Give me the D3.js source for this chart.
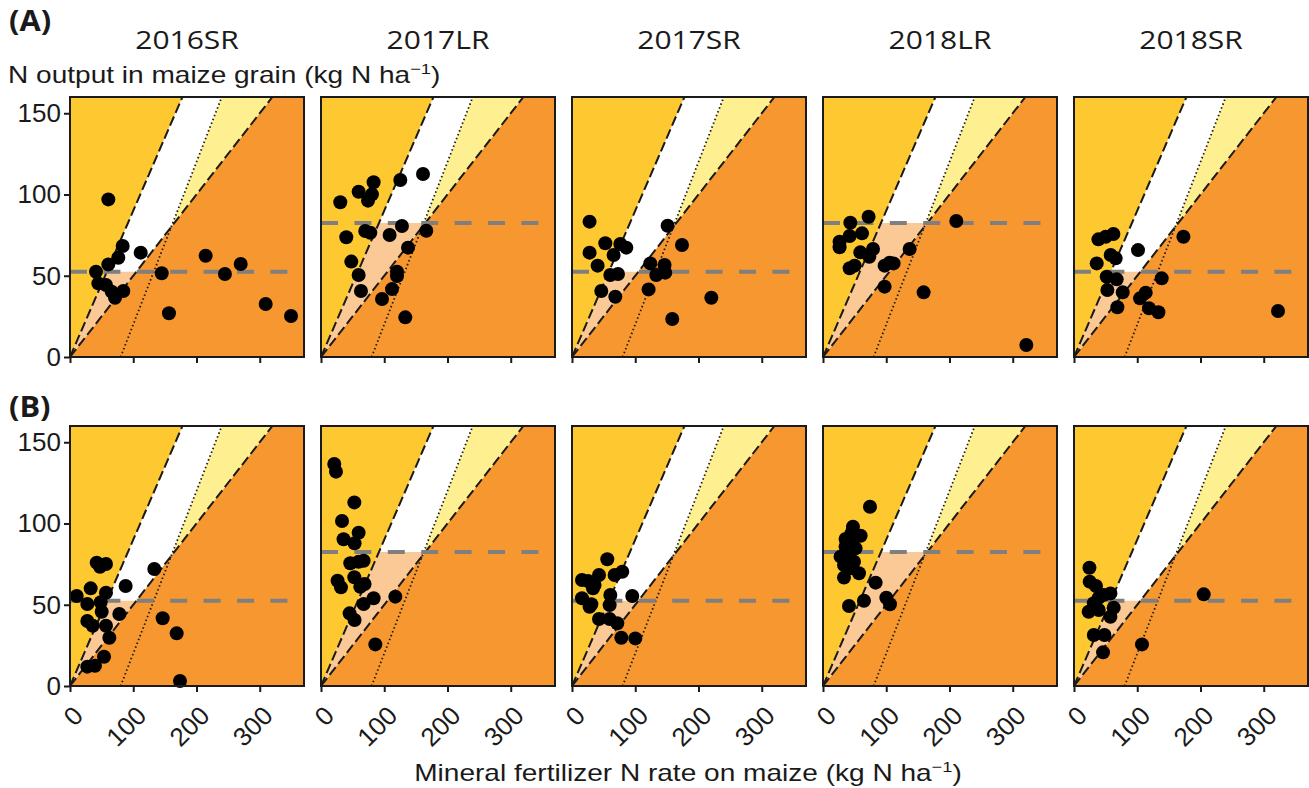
<!DOCTYPE html>
<html>
<head>
<meta charset="utf-8">
<script src="https://cdn.jsdelivr.net/npm/d3@7"></script>
<style>
  body { margin: 0; background: #fff; }
  .axis text { font-family: "Liberation Sans", Arial, sans-serif; font-size: 26px; fill: #1a1a1a; }
  .axis path { display: none; }
  .axis line { stroke: #1a1a1a; stroke-width: 2px; }
</style>
</head>
<body>
<div id="chart"></div>
<script>

// seasons (columns) and rows
var seasons = ["2016SR", "2017LR", "2017SR", "2018LR", "2018SR"];
var rowLabels = ["(A)", "(B)"];

// yield threshold per season (kg N ha-1 in grain)
var yieldThreshold = [52.5, 82.5, 52.5, 82.5, 52.5];

// NUE bounds and N surplus limit
var nueHigh = 0.9;
var nueLow = 0.5;
var surplusMax = 80;
var thresholdEnd = 345;

var xDomain = [0, 370];
var yDomain = [0, 160];
var xTicks = [0, 100, 200, 300];
var yTicks = [0, 50, 100, 150];

// row (A) points: [fertilizer N rate, grain N output]
var pointsA_2016SR = [[60.6,97],[41.1,52.5],[44.8,45.3],[56.9,44.3],[60.6,57],[76.4,61.1],[83.3,68.3],[111.8,64.2],[65.9,40.2],[71.2,36.5],[84.3,40.6],[145,51.5],[156.5,26.9],[214.5,62.3],[245,51.1],[269.9,57.2],[309.4,32.6],[349.5,25.2]];
var pointsA_2017LR = [[30.5,95.2],[59.5,101.7],[83.2,107.5],[80.6,100.1],[74.3,96.2],[125.4,108.9],[161.3,112.6],[40,73.7],[70,77.5],[78,76.5],[108.5,75.1],[128,80.6],[166.5,77.7],[137.6,67.3],[47.9,58.7],[59.5,50.5],[63.2,40.6],[96.5,35.7],[112.3,41.8],[120.2,52.5],[120.2,49.8],[133.3,24.4]];
var pointsA_2017SR = [[27.8,83.3],[52.7,70],[27.8,64.2],[40.5,56.2],[65.8,62.8],[76.4,69.5],[85.9,67.3],[60.6,50.5],[72.7,51.1],[46.3,40.6],[68.5,37.1],[151.2,80.8],[173.9,68.9],[123.8,57.6],[146.4,56.6],[133.3,50.5],[147.5,51.9],[121.1,41.6],[220.3,36.5],[158.5,23.4]];
var pointsA_2018LR = [[72.1,86.3],[43.2,82.6],[42.1,74.5],[61.7,76.1],[26.2,71],[26.2,67.5],[59,64.4],[79.1,66.5],[73.2,61.7],[42.1,54.6],[50,56.2],[97.4,56.2],[111.6,57.6],[105.3,58],[137,66.5],[97.4,43.3],[159.1,39.8],[210.8,83.7],[321.5,7.4]];
var pointsA_2018SR = [[38.6,72.4],[50.1,74],[62.3,75.7],[101.2,65.8],[173,74],[35.9,57.6],[58,62.8],[65.9,60.7],[51.7,49.4],[67.5,47.8],[52.8,41.2],[77,39.8],[68.6,30.6],[138.7,48.4],[113.4,39.6],[104.4,36.1],[118.6,30],[133.5,27.5],[322.6,28.3]];

// row (B) points
var pointsB_2016SR = [[10.6,55.4],[32.7,60.1],[42.2,75.9],[47.4,73.4],[56.9,75.1],[27.4,50.5],[48.5,51.5],[56.9,57.4],[50.1,45.7],[27.4,40],[35.9,37.1],[56.9,37.1],[62.2,29.7],[53.8,18],[27.4,11.9],[39.5,12.5],[88,61.5],[78,44.3],[133.3,72],[146.5,41.7],[168.7,32.4],[173.9,3.1]];
var pointsB_2017LR = [[21,136.6],[23.7,131.9],[52.7,113],[33.2,101.5],[59.5,94.3],[35.7,90.3],[53.1,87.8],[46.3,75.5],[67.4,77.1],[59.5,76.5],[52.7,66.9],[26.2,64.8],[31.6,60.7],[62.1,61.1],[68.9,62.8],[83.2,54],[67.4,50.5],[117.5,55],[45.2,44.7],[53.1,40.6],[85.9,25.6]];
var pointsB_2017SR = [[55.8,78],[79.5,70.3],[67.4,68.3],[42.7,68.3],[15.8,65.2],[25.3,64.6],[35.7,62.2],[60.6,56],[95.3,55.4],[15.8,54],[30.6,50.3],[27.8,48.8],[59.5,49.8],[42.7,41.2],[59.5,41.2],[71.6,38.6],[78,29.7],[100.1,29.3],[33.2,60.1]];
var pointsB_2018LR = [[74.3,110.3],[47.4,98],[59.5,92.5],[35.7,90.5],[45.2,94],[35.7,85.7],[51.5,84.7],[27.8,79.6],[40.5,80.6],[33.2,74.5],[49,76.5],[56.9,69.4],[33.2,66.7],[42.7,72.4],[83.2,63.6],[64.8,52.5],[41.1,49.2],[100.1,54.3],[105.9,50.3],[46.3,88.8]];
var pointsB_2018SR = [[24.4,72.8],[24.8,64.2],[34.8,61.5],[57.6,57],[39.1,54.3],[31.3,50.9],[62.8,48.2],[23.2,45.7],[39.1,46.8],[57.6,42.6],[31.3,31.4],[48.1,31.4],[45.9,20.7],[107.5,25.6],[205.1,56.4],[47,56]];

var panelPoints = [
    [pointsA_2016SR, pointsA_2017LR, pointsA_2017SR, pointsA_2018LR, pointsA_2018SR],
    [pointsB_2016SR, pointsB_2017LR, pointsB_2017SR, pointsB_2018LR, pointsB_2018SR]
];

var colors = {
    high: "#fec830",     // NUE > 90%
    low: "#f7972f",      // NUE < 50%
    target: "#ffffff",
    surplus: "#fef090",
    lowYield: "#fbc996"
};

// layout
var panelW = 234, panelH = 260, panelStep = 251, left0 = 70;
var rowTop = [97, 426];

var svg = d3.select("#chart").append("svg")
    .attr("width", 1309)
    .attr("height", 788);

var x = d3.scaleLinear().domain(xDomain).range([0, panelW]);
var y = d3.scaleLinear().domain(yDomain).range([panelH, 0]);

var line = d3.line()
    .x(function(d) { return x(d[0]); })
    .y(function(d) { return y(d[1]); });

var yTop = yDomain[1], xRight = xDomain[1];

rowLabels.forEach(function(rowLabel, r) {
    seasons.forEach(function(season, c) {
        var t = yieldThreshold[c];
        var g = svg.append("g")
            .attr("transform", "translate(" + (left0 + c * panelStep) + "," + rowTop[r] + ")");

        // background regions
        g.append("rect")
            .attr("width", panelW).attr("height", panelH)
            .attr("fill", colors.high);

        var xc = surplusMax / (1 - nueLow);
        var regions = [
            { fill: colors.low, pts: [[0,0],[xRight,0],[xRight,yTop],[yTop/nueLow,yTop]] },
            { fill: colors.target, pts: [[0,0],[yTop/nueLow,yTop],[yTop/nueHigh,yTop]] },
            { fill: colors.surplus, pts: [[xc,xc*nueLow],[yTop/nueLow,yTop],[yTop+surplusMax,yTop]] },
            { fill: colors.lowYield, pts: [[0,0],[t/nueLow,t],[t/nueHigh,t]] }
        ];
        regions.forEach(function(reg) {
            g.append("path")
                .attr("d", line(reg.pts) + "Z")
                .attr("fill", reg.fill);
        });

        // NUE lines
        [nueHigh, nueLow].forEach(function(n) {
            g.append("path")
                .attr("d", line([[0,0],[yTop/n,yTop]]))
                .attr("fill", "none")
                .attr("stroke", "#1a1a1a")
                .attr("stroke-width", 2)
                .attr("stroke-dasharray", "10,4");
        });

        // N surplus line
        g.append("path")
            .attr("d", line([[surplusMax,0],[yTop+surplusMax,yTop]]))
            .attr("fill", "none")
            .attr("stroke", "#1a1a1a")
            .attr("stroke-width", 1.8)
            .attr("stroke-dasharray", "1.5,2.6");

        // yield threshold
        g.append("path")
            .attr("d", line([[0,t],[thresholdEnd,t]]))
            .attr("fill", "none")
            .attr("stroke", "#7f7f7f")
            .attr("stroke-width", 4)
            .attr("stroke-dasharray", "17,16.4");

        // points
        g.selectAll(".dot")
            .data(panelPoints[r][c])
            .enter().append("circle")
            .attr("class", "dot")
            .attr("cx", function(d) { return x(d[0]); })
            .attr("cy", function(d) { return y(d[1]); })
            .attr("r", 7)
            .attr("fill", "#000");

        // frame
        g.append("rect")
            .attr("width", panelW).attr("height", panelH)
            .attr("fill", "none")
            .attr("stroke", "#1a1a1a")
            .attr("stroke-width", 2);

        // x axis
        var xAxis = d3.axisBottom(x)
            .tickValues(xTicks)
            .tickSize(6)
            .tickFormat(r === 1 ? d3.format("d") : function() { return ""; });

        var xg = g.append("g")
            .attr("class", "axis")
            .attr("transform", "translate(0," + panelH + ")")
            .call(xAxis);

        if (r === 1) {
            xg.selectAll("text")
                .attr("text-anchor", "end")
                .attr("x", 0).attr("y", 0).attr("dy", "0.72em")
                .attr("transform", "translate(1,18) rotate(-45)");
        }

        // y axis on first column only
        if (c === 0) {
            g.append("g")
                .attr("class", "axis")
                .call(d3.axisLeft(y).tickValues(yTicks).tickSize(6).tickPadding(3));
        }

        // season header
        if (r === 0) {
            svg.append("text")
                .attr("transform", "translate(" + (left0 + c * panelStep + panelW / 2) + ",49) scale(1.2,1)")
                .attr("text-anchor", "middle")
                .style("font-family", "'Open Sans', sans-serif")
                .style("font-size", "25px")
                .style("fill", "#1a1a1a")
                .text(season);
        }
    });

    // row label
    svg.append("text")
        .attr("transform", "translate(9," + (r === 0 ? 31 : 417) + ") scale(1.1,1)")
        .style("font-family", "'Open Sans', sans-serif")
        .style("font-weight", "bold")
        .style("font-size", "28px")
        .style("fill", "#1a1a1a")
        .text(rowLabel);
});

// axis titles
function unitTitle(sel, main) {
    sel.style("font-family", "'Liberation Sans', Arial, sans-serif")
        .style("font-size", "23px")
        .style("fill", "#1a1a1a");
    sel.append("tspan").text(main + " (kg N ha");
    sel.append("tspan").attr("dy", -9).style("font-size", "15px").text("\u22121");
    sel.append("tspan").attr("dy", 9).text(")");
}

svg.append("text")
    .attr("transform", "translate(8,83) scale(1.22,1)")
    .call(unitTitle, "N output in maize grain");

svg.append("text")
    .attr("transform", "translate(688,781) scale(1.22,1)")
    .attr("text-anchor", "middle")
    .call(unitTitle, "Mineral fertilizer N rate on maize");

</script>
</body>
</html>
